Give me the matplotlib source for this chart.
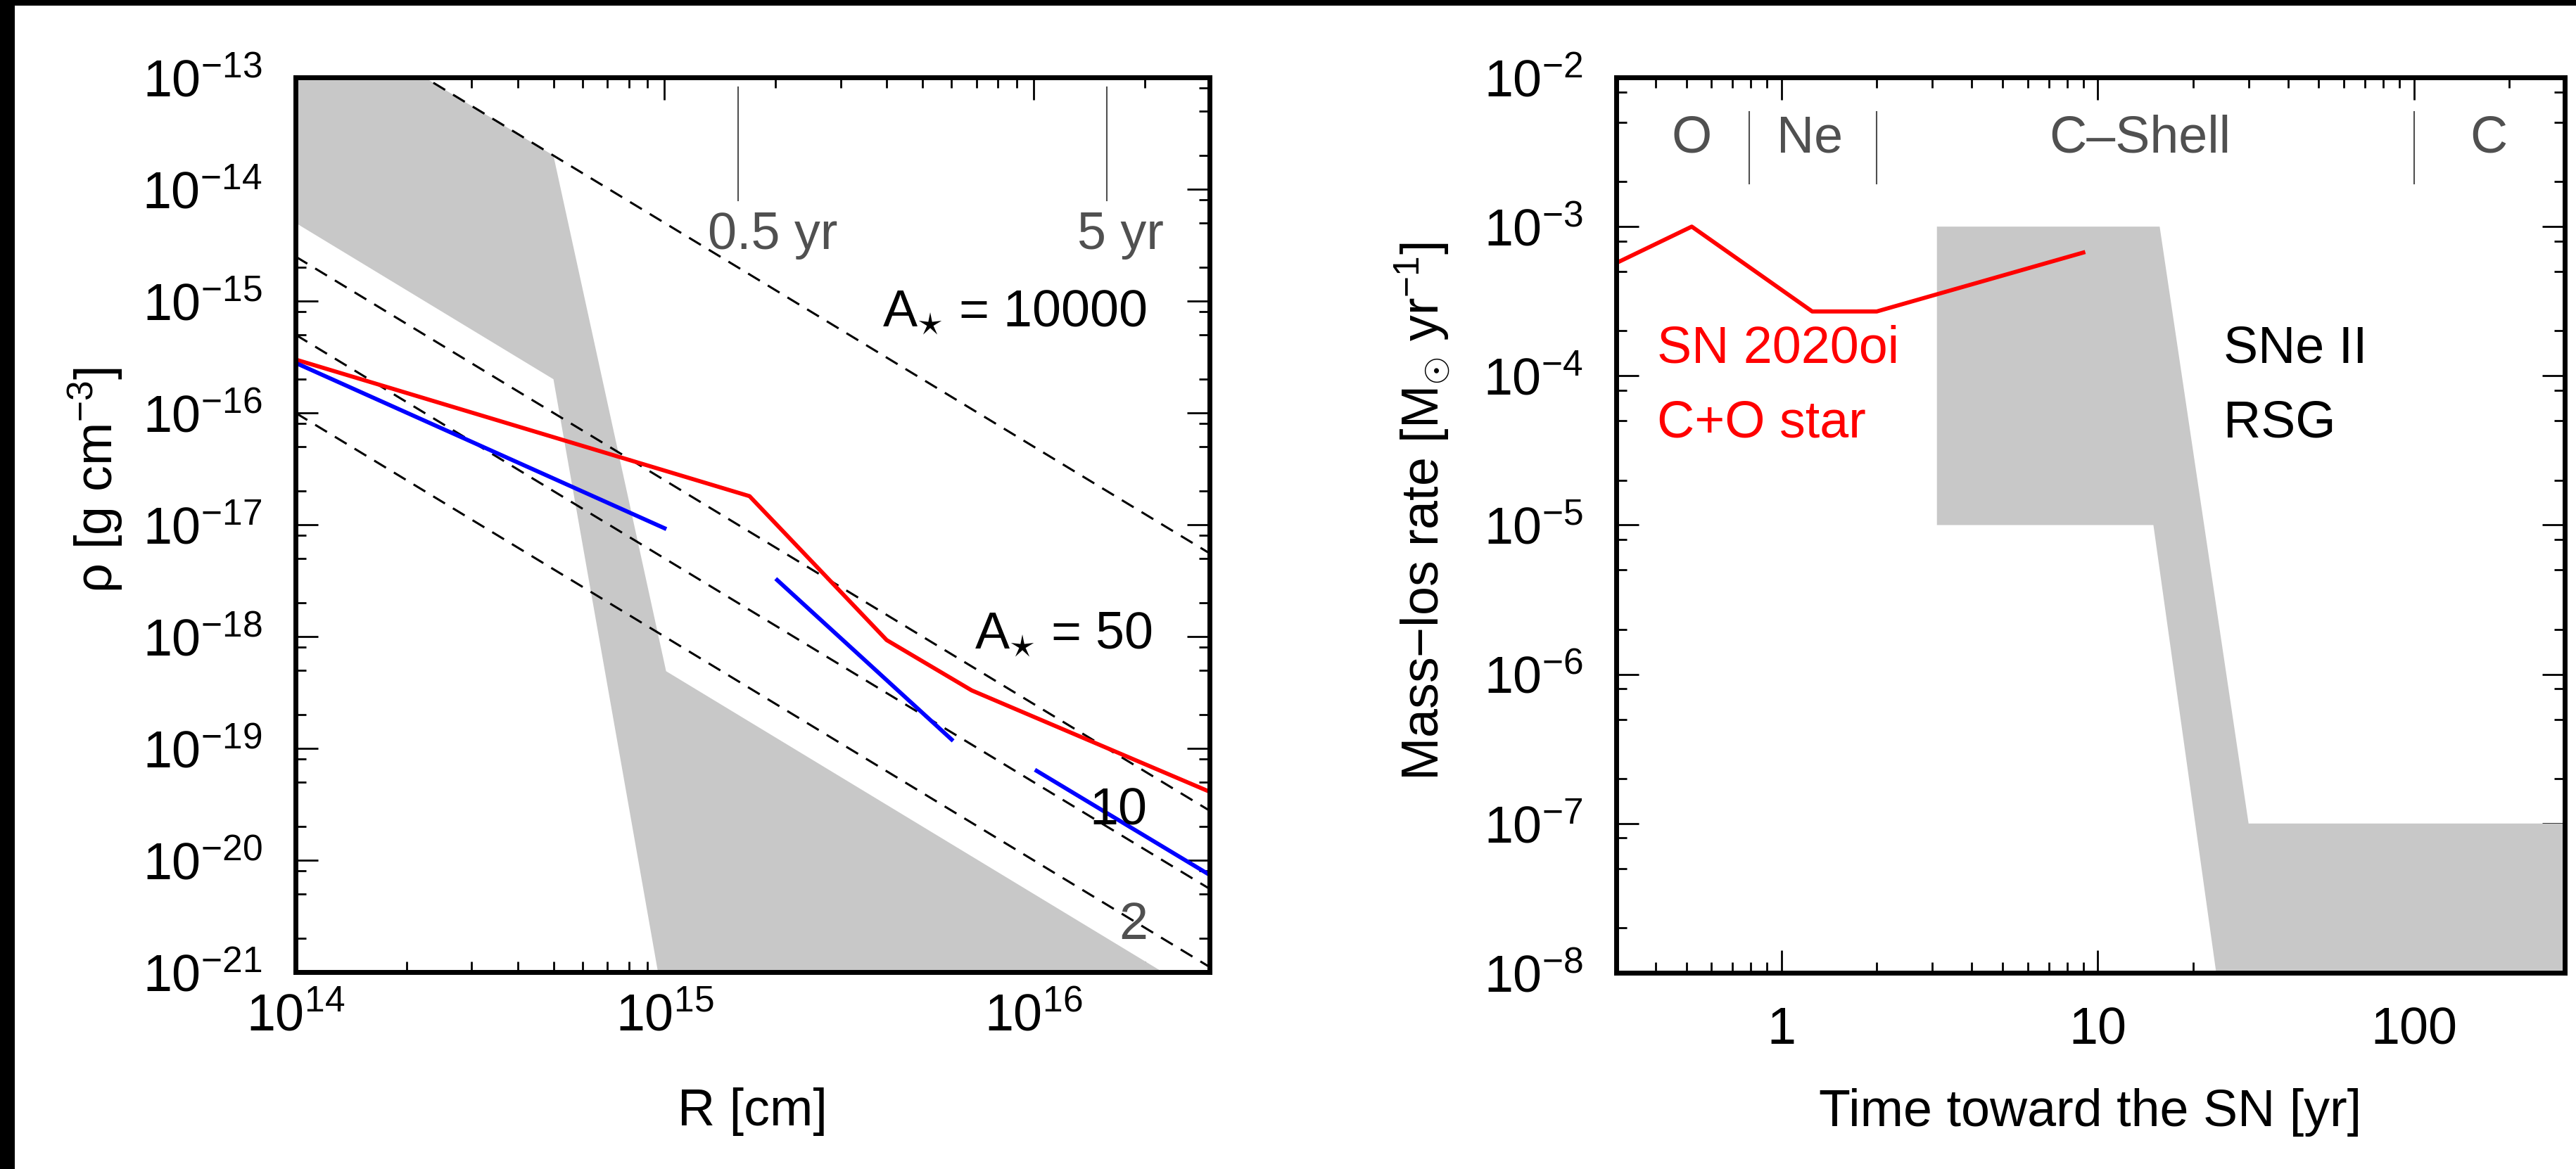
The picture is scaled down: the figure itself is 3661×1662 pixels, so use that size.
import numpy as np
import matplotlib
matplotlib.use('Agg')
import matplotlib.pyplot as plt
from matplotlib.ticker import LogLocator, LogFormatterMathtext, NullFormatter, FixedLocator, FixedFormatter
from matplotlib.patches import Rectangle, Polygon

# ---------------- data: left panel (density vs radius) ----------------
r_red = [1e14, 1.7e15, 4.0e15, 6.8e15, 3e16]
rho_red = [3e-16, 1.8e-17, 9.3e-19, 3.3e-19, 4.1e-20]
r_blue1 = [1e14, 1e15]
rho_blue1 = [2.8e-16, 9.3e-18]
r_blue2 = [2.02e15, 6.0e15]
rho_blue2 = [3.2e-18, 1.2e-19]
r_blue3 = [1.02e16, 3e16]
rho_blue3 = [6.3e-20, 7.4e-21]
A_star = [10000, 50, 10, 2]
r_wind = [1e14, 3e16]
gray_r = [1e14, 5e14, 1.01e15, 2.24e16, 9.6e14, 5e14, 1e14]
gray_rho = [5e-13, 2e-14, 4.9e-19, 1e-21, 1e-21, 2e-16, 5e-15]
yr_marks = [1.58e15, 1.58e16]
yr_labels = ['0.5 yr', '5 yr']
left_xticks = [1e14, 1e15, 1e16]
left_yticks = [1e-21, 1e-20, 1e-19, 1e-18, 1e-17, 1e-16, 1e-15, 1e-14, 1e-13]

# ---------------- data: right panel (mass-loss rate vs time) ----------------
t_red = [0.3, 0.52, 1.25, 2.0, 9.0]
mdot_red = [5.7e-4, 1e-3, 2.7e-4, 2.7e-4, 6.7e-4]
gray_t = [3.1, 15.7, 30, 300, 300, 23.7, 15, 3.1]
gray_mdot = [1e-3, 1e-3, 1e-7, 1e-7, 1e-8, 1e-8, 1e-5, 1e-5]
phase_names = ['O', 'Ne', 'C\u2013Shell', 'C']
phase_pos = [0.52, 1.23, 13.6, 172]
phase_sep = [0.79, 2.0, 100]
right_xticks = [1, 10, 100]
right_xlabels = ['1', '10', '100']
right_yticks = [1e-8, 1e-7, 1e-6, 1e-5, 1e-4, 1e-3, 1e-2]

plt.rcParams['font.family'] = ['Liberation Sans', 'DejaVu Sans']
plt.rcParams['mathtext.fontset'] = 'custom'
plt.rcParams['mathtext.rm'] = 'Liberation Sans'
plt.rcParams['mathtext.it'] = 'Liberation Sans:italic'
plt.rcParams['mathtext.sf'] = 'Liberation Sans'
plt.rcParams['axes.unicode_minus'] = True

FS = 53
W, H = 3661, 1662
fig = plt.figure(figsize=(W / 100, H / 100), dpi=100)

def px_axes(x0, x1, y0, y1):
    return fig.add_axes([x0 / W, 1 - y1 / H, (x1 - x0) / W, (y1 - y0) / H])

ax1 = px_axes(420, 1719, 110, 1382)
ax2 = px_axes(2297, 3645, 110, 1383)

def style(ax):
    ax.set_axisbelow(True)
    for s in ax.spines.values():
        s.set_linewidth(5)
        s.set_zorder(5)
    ax.tick_params(which='both', direction='in', top=True, right=True, width=2.0)
    ax.tick_params(which='major', length=23)
    ax.tick_params(which='minor', length=11)
    ax.tick_params(axis='y', labelsize=FS, pad=34)

LW = 4.2
GRAY_TXT = '#505050'
DASH_LW = 2.2

# ---------- left panel ----------
ax = ax1
ax.set_xscale('log'); ax.set_yscale('log')
ax.set_xlim(1e14, 3e16); ax.set_ylim(1e-21, 1e-13)
ax.add_patch(Polygon(np.column_stack([gray_r, gray_rho]), closed=True,
                     facecolor='#c8c8c8', edgecolor='none', zorder=1))
rr = np.array(r_wind)
for A in A_star:
    ax.plot(rr, 5e11 * A / rr**2, color='black', lw=DASH_LW, dashes=(6.4, 4.3), zorder=2)
ax.plot(r_red, rho_red, color='#ff0000', lw=LW, zorder=3)
for rb, db in [(r_blue1, rho_blue1), (r_blue2, rho_blue2), (r_blue3, rho_blue3)]:
    ax.plot(rb, db, color='#0000ff', lw=LW, zorder=3)
for rm, lab in zip(yr_marks, yr_labels):
    ax.plot([rm, rm], [10**-13.09, 10**-14.1], color=GRAY_TXT, lw=1.5, zorder=2)
    ax.text(rm * 0.83, 10**-14.41, lab, color=GRAY_TXT, fontsize=FS, ha='left', va='center')
ax.text(10**15.59, 10**-15.11, r'A$_{\star}$ = 10000', fontsize=FS, ha='left', va='center')
ax.text(10**15.84, 10**-17.99, r'A$_{\star}$ = 50', fontsize=FS, ha='left', va='center')
ax.text(10**16.23, 10**-19.56, '10', fontsize=FS, ha='center', va='center')
ax.text(10**16.27, 10**-20.58, '2', fontsize=FS, ha='center', va='center', color=GRAY_TXT)
style(ax)
ax.xaxis.set_major_locator(FixedLocator(left_xticks))
ax.xaxis.set_minor_locator(LogLocator(base=10, subs=np.arange(2, 10), numticks=20))
ax.xaxis.set_minor_formatter(NullFormatter())
ax.yaxis.set_major_locator(FixedLocator(left_yticks))
ax.yaxis.set_minor_locator(LogLocator(base=10, subs=(2, 5, 8), numticks=30))
ax.yaxis.set_minor_formatter(NullFormatter())
ax.xaxis.set_major_formatter(LogFormatterMathtext())
ax.yaxis.set_major_formatter(LogFormatterMathtext())
ax.tick_params(axis='x', labelsize=FS, pad=21)
ax.set_xlabel('R [cm]', fontsize=FS)
ax.xaxis.label.set_va('center')
ax.xaxis.set_label_coords(0.5, -0.156)
ax.set_ylabel(r'$\mathregular{\rho}$ [g cm$^{-3}$]', fontsize=FS)
ax.yaxis.label.set_va('center')
ax.yaxis.set_label_coords(-0.219, 0.55)

# ---------- right panel ----------
ax = ax2
ax.set_xscale('log'); ax.set_yscale('log')
ax.set_xlim(0.3, 300); ax.set_ylim(1e-8, 1e-2)
ax.add_patch(Polygon(np.column_stack([gray_t, gray_mdot]), closed=True,
                     facecolor='#c8c8c8', edgecolor='none', zorder=1))
ax.plot(t_red, mdot_red, color='#ff0000', lw=LW, zorder=3)
for name, pos in zip(phase_names, phase_pos):
    ax.text(pos, 10**-2.41, name, color=GRAY_TXT, fontsize=FS, ha='center', va='center')
for sp in phase_sep:
    ax.plot([sp, sp], [10**-2.23, 10**-2.71], color=GRAY_TXT, lw=1.5)
ax.text(0.404, 10**-3.82, 'SN 2020oi', color='#ff0000', fontsize=FS, ha='left', va='center')
ax.text(0.404, 10**-4.32, 'C+O star', color='#ff0000', fontsize=FS, ha='left', va='center')
ax.text(25, 10**-3.82, 'SNe II', color='black', fontsize=FS, ha='left', va='center')
ax.text(25, 10**-4.32, 'RSG', color='black', fontsize=FS, ha='left', va='center')
style(ax)
ax.xaxis.set_major_locator(FixedLocator(right_xticks))
ax.xaxis.set_major_formatter(FixedFormatter(right_xlabels))
ax.xaxis.set_minor_locator(LogLocator(base=10, subs=np.arange(2, 10), numticks=20))
ax.xaxis.set_minor_formatter(NullFormatter())
ax.yaxis.set_major_locator(FixedLocator(right_yticks))
ax.yaxis.set_minor_locator(LogLocator(base=10, subs=(2, 5, 8), numticks=30))
ax.yaxis.set_minor_formatter(NullFormatter())
ax.yaxis.set_major_formatter(LogFormatterMathtext())
ax.tick_params(axis='x', labelsize=FS, pad=34)
ax.set_xlabel('Time toward the SN [yr]', fontsize=FS)
ax.xaxis.label.set_va('center')
ax.xaxis.set_label_coords(0.5, -0.156)
ax.set_ylabel(r'Mass$-$los rate [M$_{\odot}$ yr$^{-1}$]', fontsize=FS)
ax.yaxis.label.set_va('center')
ax.yaxis.set_label_coords(-0.205, 0.515)

# black border strips (top and left) as in the reference image
fig.add_artist(Rectangle((0, 1 - 8 / H), 1, 8 / H, transform=fig.transFigure,
                         facecolor='black', edgecolor='none'))
fig.add_artist(Rectangle((0, 0), 21 / W, 1, transform=fig.transFigure,
                         facecolor='black', edgecolor='none'))

fig.savefig('out.png', dpi=100, facecolor='white')
